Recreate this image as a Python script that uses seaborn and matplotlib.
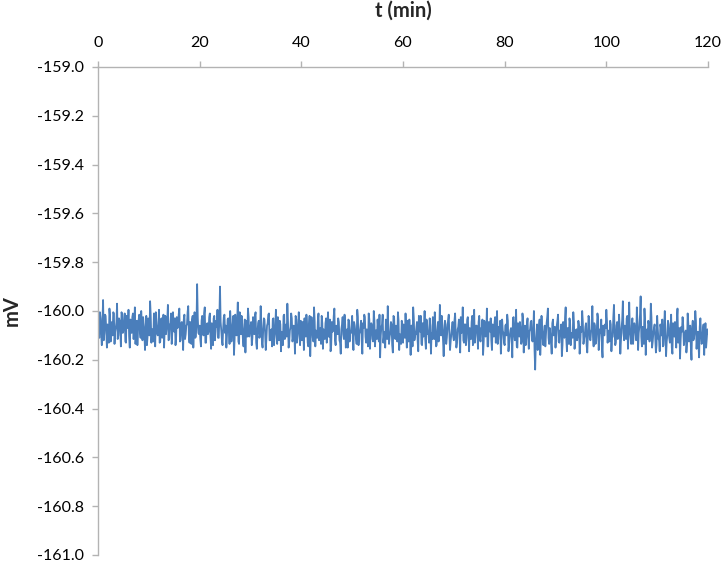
import numpy as np
import pandas as pd
import matplotlib
matplotlib.use("Agg")
import matplotlib.pyplot as plt
from matplotlib.ticker import FuncFormatter, MultipleLocator
import seaborn as sns

# Deviation from -160 mV, in thousandths of a mV.
# Set A: samples at 0, 0.25, 0.5 ... 120 min
dev_a_0_30 = [
    20, -110, -30, -140, 45, -90, -20, -150, -60, 10, -125, -45, -5, -135, -70, 30, -100, -40, -145, -15,
    -80, -10, -130, -55, 5, -150, -70, -25, -115, 15, -95, -140, -35, -85, 0, -120, -60, -160, -20, -105,
    -45, 40, -130, -75, -10, -145, -55, -100, 5, -125, -30, -90, -150, -20, -70, 25, -115, -50, -135, -5,
    -85, -140, -25, -65, 10, -120, -45, -160, -15, -95, -55, 20, -130, -75, -35, -150, -5, -105, 110, -90,
    -60, -145, -20, -100, 15, -130, -50, -85, -10, -155, -70, -30, -120, -40, 5, -110, 100, -80, -140, -25,
    -90, -150, -35, -70, 0, -125, -55, -180, -15, -100, 35, -135, -60, -20, -115, -80, -170, -40, 10, -105,
]
dev_a_30_60 = [
    -65, -140, -25, -95, -5, -155, -50, -110, 20, -130, -75, -35, -160, -60, -15, -120, -85, -145, -30, -100,
    5, -135, -70, -40, -165, -90, -20, -115, -55, 30, -150, -80, -10, -125, -60, -175, -35, -95, -5, -140,
    -75, -45, -160, -100, -15, -130, -60, -185, -25, -110, 15, -145, -85, -40, -120, -70, -20, -155, -95, -50,
    -130, -5, -105, -165, -45, -80, 10, -140, -65, -30, -120, -175, -55, -95, -15, -150, -75, -35, -125, -90,
    -20, -160, -60, -110, 5, -140, -85, -40, -175, -70, -25, -130, -95, -10, -155, -50, -115, 0, -145, -80,
    -35, -125, -190, -65, -15, -105, -150, -45, 20, -135, -90, -55, -170, -25, -115, -75, -5, -160, -100, -40,
]
dev_a_60_90 = [
    -130, -70, -10, -150, -85, -35, -180, -60, 15, -120, -95, -45, -165, -75, -20, -140, -105, 0, -155, -55,
    -90, -30, -175, -115, -50, -5, -145, -80, -125, 25, -100, -60, -185, -40, -135, -70, -15, -160, -95, -45,
    -120, -10, -150, -75, -35, -170, -90, 15, -130, -55, -110, -25, -165, -80, -45, -140, 5, -100, -60, -155,
    -20, -125, -85, -180, -40, -105, 10, -145, -65, -30, -160, -95, -50, -130, 0, -115, -75, -175, -35, -90,
    -140, -55, -15, -165, -100, -70, -190, -25, -120, 5, -150, -85, -45, -135, -10, -170, -60, -110, -30, -155,
    -75, -40, -125, 0, -240, -95, -160, -65, -180, -20, -115, -85, -145, -50, 10, -135, -100, -175, -35, -90,
]
dev_a_90_120 = [
    -150, -60, -15, -130, -90, -185, -45, -110, 15, -165, -70, -30, -140, -95, -5, -155, -80, -120, -40, -175,
    -65, 0, -135, -100, -50, -170, -20, -115, -85, 20, -145, -60, -125, -10, -160, -75, -35, -190, -95, -55,
    5, -130, -80, -40, -165, -105, 25, -140, -60, -115, -15, -175, -70, 40, -120, -90, -30, -155, 35, -100,
    -60, -135, -50, -85, 15, -160, -65, 60, -145, -95, 10, -180, -75, -40, -125, 30, -150, -90, -55, -170,
    -20, -115, -165, -70, -35, -140, 0, -185, -100, -55, -130, -15, -175, -80, -45, -150, 10, -120, -195, -65,
    -25, -140, -90, -170, -10, -125, -60, -200, -40, -110, 0, -155, -85, -190, -30, -135, -75, -180, -50, -115, -95,
]
# Set B: samples in between, at 0.125, 0.375 ... 119.875 min
dev_b_0_30 = [
    -70, -5, -95, -40, -120, -15, -80, -55, -130, -25, -65, -100, -10, -85, -45, -115, -30, -75, -5, -90,
    -50, -125, -20, -70, -105, -35, -90, -10, -60, -135, -40, -80, -15, -110, -55, -25, -95, -65, -140, -30,
    -100, -20, -75, -125, -45, -5, -90, -60, -130, -35, -110, -15, -70, -95, -40, -120, -55, -10, -85, -65,
    -30, -105, -70, -15, -125, -50, -90, -35, -115, -60, -5, -100, -45, -135, -20, -80, -110, -55, -25, -95,
    -115, -40, -75, -10, -130, -60, -95, -25, -105, -50, -140, -20, -85, -65, -110, -30, -45, -120, -70, -15,
    -60, -100, -30, -135, -50, -80, -20, -115, -70, -40, -125, -5, -95, -55, -145, -35, -75, -105, -25, -85,
]
dev_b_30_60 = [
    -45, -110, -70, -20, -130, -85, -40, -100, -60, -150, -30, -90, -115, -50, -10, -120, -75, -35, -140, -65,
    -95, -25, -120, -55, -85, -140, -15, -75, -105, -45, -125, -65, -30, -110, -90, -20, -130, -60, -100, -40,
    -120, -70, -30, -105, -55, -145, -20, -90, -65, -125, -40, -80, -110, -10, -95, -135, -50, -75, -115, -30,
    -65, -105, -35, -140, -85, -20, -120, -60, -95, -45, -130, -75, -25, -115, -55, -100, -150, -40, -85, -60,
    -110, -45, -85, -135, -25, -95, -65, -120, -50, -15, -105, -75, -145, -35, -90, -60, -125, -40, -80, -115,
    -75, -15, -100, -55, -130, -85, -35, -115, -70, -105, -45, -140, -20, -90, -60, -125, -40, -95, -135, -70,
]
dev_b_60_90 = [
    -55, -110, -80, -40, -125, -95, -60, -145, -30, -100, -70, -120, -20, -85, -135, -50, -75, -115, -35, -95,
    -130, -60, -90, -25, -115, -75, -140, -45, -100, -65, -20, -120, -85, -55, -110, -35, -95, -125, -70, -105,
    -40, -95, -130, -65, -105, -25, -85, -120, -55, -140, -35, -90, -70, -115, -20, -100, -130, -60, -85, -45,
    -110, -70, -35, -125, -60, -95, -145, -45, -85, -120, -55, -105, -25, -90, -135, -65, -40, -115, -80, -130,
    -60, -100, -40, -135, -80, -115, -30, -95, -65, -145, -50, -105, -75, -125, -35, -90, -140, -55, -110, -85,
    -45, -120, -90, -160, -130, -55, -100, -35, -115, -80, -140, -60, -95, -25, -110, -70, -130, -50, -100, -65,
]
dev_b_90_120 = [
    -105, -40, -125, -80, -55, -140, -95, -30, -115, -70, -135, -50, -90, -110, -45, -125, -75, -100, -60, -130,
    -85, -45, -115, -65, -140, -95, -35, -120, -75, -105, -50, -135, -80, -30, -110, -90, -145, -60, -100, -70,
    -40, -95, -125, -55, -110, -25, -85, -130, -45, -100, -70, -120, -35, -90, -60, -115, -20, -95, -75, -135,
    -30, -100, -70, -120, -50, -90, -15, -105, -65, -135, -45, -95, -115, -55, -85, -25, -125, -70, -110, -140,
    -75, -120, -55, -100, -145, -60, -95, -125, -40, -110, -80, -150, -50, -105, -90, -35, -130, -70, -115, -85,
    -60, -115, -80, -135, -50, -100, -145, -70, -120, -85, -40, -110, -140, -65, -95, -125, -55, -105, -150, -75,
]

x_ticks = [0, 20, 40, 60, 80, 100, 120]
y_min, y_max = -161.0, -159.0

dev_a = np.array(dev_a_0_30 + dev_a_30_60 + dev_a_60_90 + dev_a_90_120, dtype=float)
dev_b = np.array(dev_b_0_30 + dev_b_30_60 + dev_b_60_90 + dev_b_90_120, dtype=float)
t_a = np.linspace(0, 120, len(dev_a))
t_b = t_a[:-1] + (t_a[1] - t_a[0]) / 2
df = pd.DataFrame({
    "t": np.concatenate([t_a, t_b]),
    "mV": -160.0 + np.concatenate([dev_a, dev_b]) / 1000.0,
}).sort_values("t").reset_index(drop=True)

sns.set_theme(style="white")
plt.rcParams["font.family"] = ["Lato", "DejaVu Sans"]
plt.rcParams["path.simplify"] = False

fig = plt.figure(figsize=(7.22, 5.62), dpi=100)
ax = fig.add_axes([98 / 722, 1 - 555 / 562, (708 - 98) / 722, (555 - 67) / 562])

sns.lineplot(data=df, x="t", y="mV", ax=ax, color="#4A7EBB", linewidth=1.3,
             estimator=None, sort=True)

ax.set_xlim(0, 120)
ax.set_ylim(y_min, y_max)

ax.xaxis.tick_top()
ax.xaxis.set_label_position("top")
ax.set_xticks(x_ticks)
ax.yaxis.set_major_locator(MultipleLocator(0.2))
ax.yaxis.set_major_formatter(FuncFormatter(lambda v, p: f"{v:.1f}".replace("\u2212", "-")))

for s in ["right", "bottom"]:
    ax.spines[s].set_visible(False)
for s in ["top", "left"]:
    ax.spines[s].set_visible(True)
    ax.spines[s].set_color("#B3B3B3")
    ax.spines[s].set_linewidth(1.0)

ax.tick_params(axis="x", which="major", top=True, bottom=False, direction="out",
               length=4, width=1, color="#B3B3B3", pad=8, labelsize=11.5, labelcolor="black")
ax.tick_params(axis="y", which="major", left=True, direction="out",
               length=4, width=1, color="#B3B3B3", pad=6, labelsize=11.5, labelcolor="black")

ax.set_xlabel("t (min)", fontsize=14.5, fontweight="bold", labelpad=14)
ax.set_ylabel("mV", fontsize=14.5, fontweight="bold", labelpad=11)
ax.grid(False)

fig.savefig("out.png", dpi=100)
